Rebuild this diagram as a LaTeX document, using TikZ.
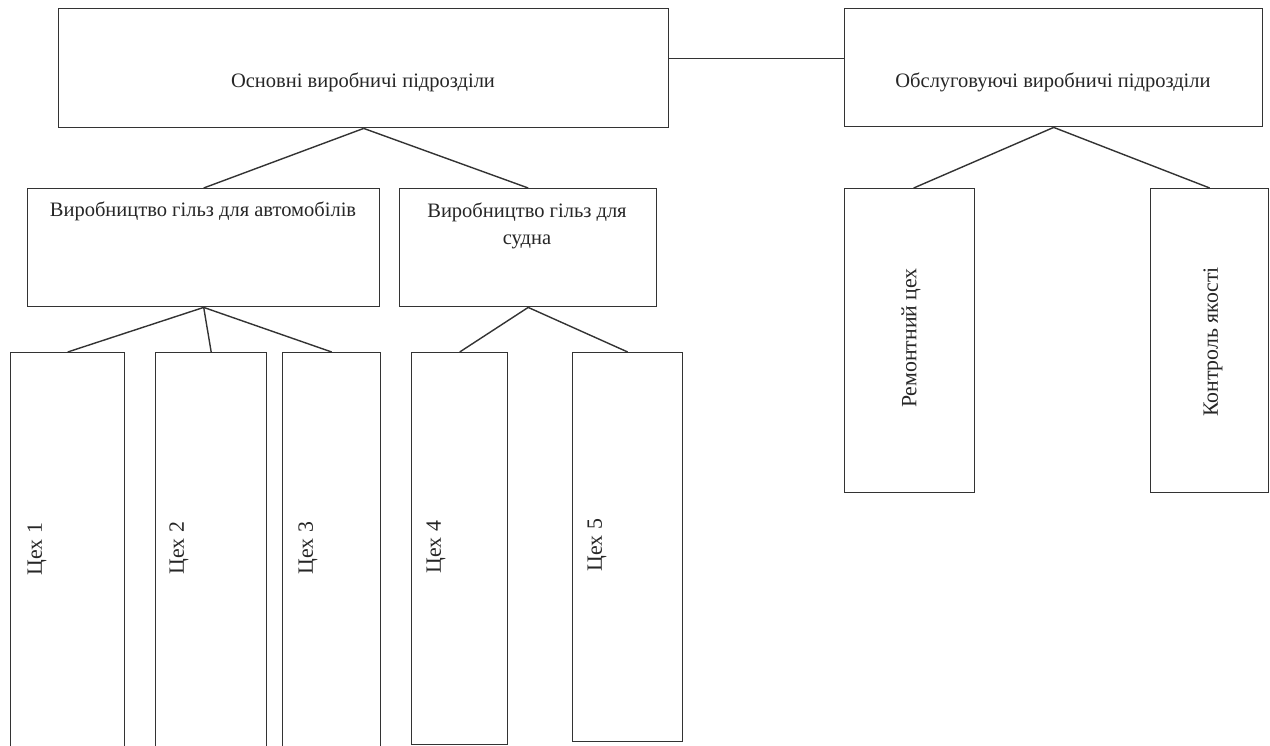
\documentclass[tikz,border=0pt]{standalone}
\usepackage{fontspec}
\setmainfont{Liberation Serif}
\begin{document}
\begin{tikzpicture}[x=1pt,y=-1pt,
  box/.style={draw=black!80,line width=1.4pt,rectangle,inner sep=0pt,anchor=north west},
  lbl/.style={inner sep=0pt,font=\fontsize{20.5}{27}\selectfont,text=black!85,align=center},
  vlbl/.style={inner sep=0pt,font=\fontsize{21.8}{27}\selectfont,text=black!85,rotate=90},
  link/.style={draw=black!80,line width=1.4pt}]
\clip (0,0) rectangle (1270,745);
\fill[white] (0,0) rectangle (1270,745);
% boxes
\node[box,minimum width=610pt,minimum height=119pt] (main) at (58,8) {};
\node[box,minimum width=418pt,minimum height=118pt] (serv) at (844,8) {};
\node[box,minimum width=352pt,minimum height=118pt] (auto) at (27,188) {};
\node[box,minimum width=257pt,minimum height=118pt] (ship) at (399,188) {};
\node[box,minimum width=130pt,minimum height=304pt] (rem) at (844,188) {};
\node[box,minimum width=118pt,minimum height=304pt] (qual) at (1150,188) {};
\node[box,minimum width=114pt,minimum height=420pt] (c1) at (10,352) {};
\node[box,minimum width=111pt,minimum height=420pt] (c2) at (155,352) {};
\node[box,minimum width=98pt,minimum height=420pt] (c3) at (282,352) {};
\node[box,minimum width=96pt,minimum height=392pt] (c4) at (411,352) {};
\node[box,minimum width=110pt,minimum height=389pt] (c5) at (572,352) {};
% labels
\node[lbl] (tmain) at (363,82) {Основні виробничі підрозділи};
\node[lbl] (tserv) at (1053,82) {Обслуговуючі виробничі підрозділи};
\node[lbl] (tauto) at (203,211) {Виробництво гільз для автомобілів};
\node[lbl] (tship) at (527,225.5) {Виробництво гільз для\\судна};
\node[vlbl] (trem) at (911,338) {Ремонтний цех};
\node[vlbl] (tqual) at (1213,342) {Контроль якості};
\node[vlbl] (t1) at (37,549) {Цех 1};
\node[vlbl] (t2) at (179,548) {Цех 2};
\node[vlbl] (t3) at (308,548) {Цех 3};
\node[vlbl] (t4) at (436,547) {Цех 4};
\node[vlbl] (t5) at (597,545) {Цех 5};
% connectors
\draw[link] ([yshift=9.5pt]main.east) -- ([yshift=9pt]serv.west);
\draw[link] (main.south) -- (auto.north);
\draw[link] (main.south) -- (ship.north);
\draw[link] (serv.south) -- ([xshift=4pt]rem.north);
\draw[link] (serv.south) -- (qual.north);
\draw[link] (auto.south) -- (c1.north);
\draw[link] (auto.south) -- (c2.north);
\draw[link] (auto.south) -- (c3.north);
\draw[link] (ship.south) -- (c4.north);
\draw[link] (ship.south) -- (c5.north);
\end{tikzpicture}
\end{document}
